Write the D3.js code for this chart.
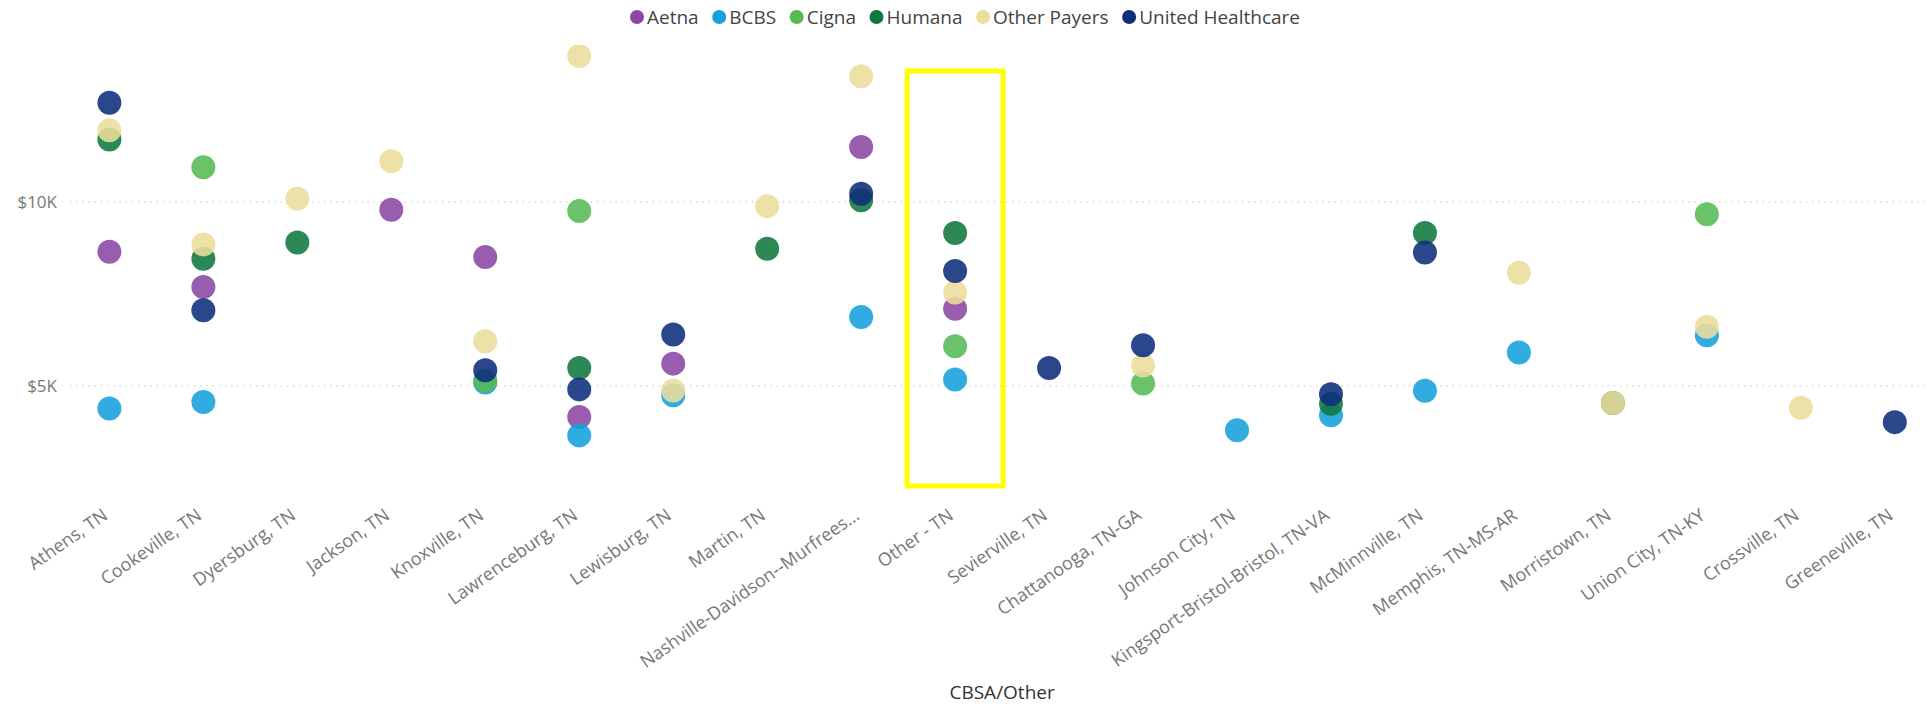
<!DOCTYPE html>
<html><head><meta charset="utf-8">
<script src="https://cdn.jsdelivr.net/npm/d3@7"></script>
<style>
body{margin:0;background:#fff;}
svg{display:block;}
svg text{font-family:"Open Sans","Noto Sans",sans-serif;}
</style>
</head><body>
<svg id="chart" width="1927" height="704"></svg>
<script>
const categories = ["Athens, TN","Cookeville, TN","Dyersburg, TN","Jackson, TN","Knoxville, TN","Lawrenceburg, TN","Lewisburg, TN","Martin, TN","Nashville-Davidson--Murfrees...","Other - TN","Sevierville, TN","Chattanooga, TN-GA","Johnson City, TN","Kingsport-Bristol-Bristol, TN-VA","McMinnville, TN","Memphis, TN-MS-AR","Morristown, TN","Union City, TN-KY","Crossville, TN","Greeneville, TN"];
const seriesNames = ["Aetna","BCBS","Cigna","Humana","Other Payers","United Healthcare"];
const seriesColors = ["#8a47a4","#15a1dd","#55ba54","#0f773e","#ecdd9c","#0e2d7c"];
//                 Ath   Cook  Dyer  Jack  Knox  Lawr  Lewi  Mart  Nash  Oth   Sevi  Chat  John  King  McMi  Memp  Morr  Unio  Cros  Gree
const aetna =     [8630, 7670, null, 9770, 8490, 4140, 5590, null, 11480,7080, null, null, null, null, null, null, null, null, null, null];
const bcbs =      [4370, 4550, null, null, 5080, 3640, 4730, null, 6860, 5160, null, null, 3780, 4190, 4850, 5890, null, 6360, null, null];
const cigna =     [null, 10930,null, null, 5130, 9740, null, null, null, 6060, null, 5050, null, null, null, null, null, 9650, null, null];
const humana =    [11680,8440, 8880, null, null, 5470, null, 8710, 10030,9140, null, null, null, 4500, 9140, null, 4520, null, null, null];
const otherPayers=[11930,8830, 10070,11090,6200, 13950,4860, 9870, 13400,7520, null, 5540, null, null, null, 8060, 4520, 6590, 4390, null];
const united =    [12680,7040, null, null, 5410, 4890, 6380, null, 10210,8110, 5470, 6090, null, 4760, 8610, null, null, null, null, 4000];
const seriesValues = [aetna, bcbs, cigna, humana, otherPayers, united];
const yTickValues = [5000, 10000];
const yTickLabels = ["$5K", "$10K"];
const xAxisTitle = "CBSA/Other";
const highlighted = "Other - TN";

const FONT = '"Open Sans","Noto Sans",sans-serif';
const svg = d3.select("#chart");
const W = 1927, H = 704;
const plotLeft = 70, plotTop = 45, plotBottom = 490;

const x = d3.scalePoint().domain(categories).range([109.4, 1894.8]);
const y = d3.scaleLinear().domain([2400, 14250]).range([481, 45]);

// gridlines + y labels
const yAxis = d3.axisLeft(y).tickValues(yTickValues)
  .tickFormat((d,i) => yTickLabels[i]).tickSize(-(W - plotLeft)).tickPadding(13);
const gy = svg.append("g").attr("transform", `translate(${plotLeft},0)`).call(yAxis)
  .attr("font-family", FONT);
gy.select(".domain").remove();
gy.selectAll(".tick line").attr("stroke", "#c8c8c8").attr("stroke-width", 1.2).attr("stroke-dasharray", "1.2,5");
gy.selectAll(".tick text").attr("fill", "#777").style("font-family", FONT).style("font-size", "17px").attr("dy", "0.35em");

// x axis labels
const xAxis = d3.axisBottom(x).tickSize(0).tickPadding(0);
const gx = svg.append("g").attr("transform", "translate(0,518)").call(xAxis)
  .attr("font-family", FONT);
gx.select(".domain").remove();
gx.selectAll(".tick text")
  .attr("fill", "#777").style("font-family", FONT).style("font-size", "18px")
  .attr("y", 0).attr("dy", 0)
  .attr("text-anchor", "end")
  .attr("transform", "translate(-1,0) rotate(-35)");

// axis title
svg.append("text").attr("x", (x.range()[0] + x.range()[1]) / 2).attr("y", 699)
  .attr("text-anchor", "middle").attr("fill", "#333").style("font-family", FONT).style("font-size", "19px").text(xAxisTitle);

// dots
svg.append("clipPath").attr("id", "plotclip").append("rect")
  .attr("x", plotLeft).attr("y", plotTop).attr("width", W - plotLeft).attr("height", plotBottom - plotTop);
const gd = svg.append("g").attr("clip-path", "url(#plotclip)");
seriesValues.forEach((vals, si) => {
  const pts = categories.map((c, i) => ({c, v: vals[i]})).filter(d => d.v != null);
  gd.selectAll(null).data(pts).enter().append("circle")
    .attr("cx", d => x(d.c)).attr("cy", d => y(d.v)).attr("r", 12)
    .attr("fill", seriesColors[si]).attr("fill-opacity", 0.88);
});

// highlight box
svg.append("rect").attr("x", x(highlighted) - 48).attr("y", 71).attr("width", 96).attr("height", 415)
  .attr("fill", "none").attr("stroke", "#ffff00").attr("stroke-width", 5);

// legend
const legendLeft = 630, legendRight = 1300;
const lg = svg.append("g").attr("transform", "translate(0,17)");
const items = lg.selectAll("g").data(seriesNames).enter().append("g");
items.append("circle").attr("r", 7).attr("cx", 7).attr("fill", (d,i) => seriesColors[i]);
items.append("text").attr("x", 17).attr("dy", "0.35em").attr("fill", "#444")
  .style("font-family", FONT).style("font-size", "19px").text(d => d);
const widths = [];
items.each(function(){ widths.push(17 + this.querySelector("text").getComputedTextLength()); });
const gap = Math.max(4, (legendRight - legendLeft - d3.sum(widths)) / (widths.length - 1));
let px = legendLeft;
items.each(function(d, i){ d3.select(this).attr("transform", `translate(${px},0)`); px += widths[i] + gap; });
</script>
</body></html>
